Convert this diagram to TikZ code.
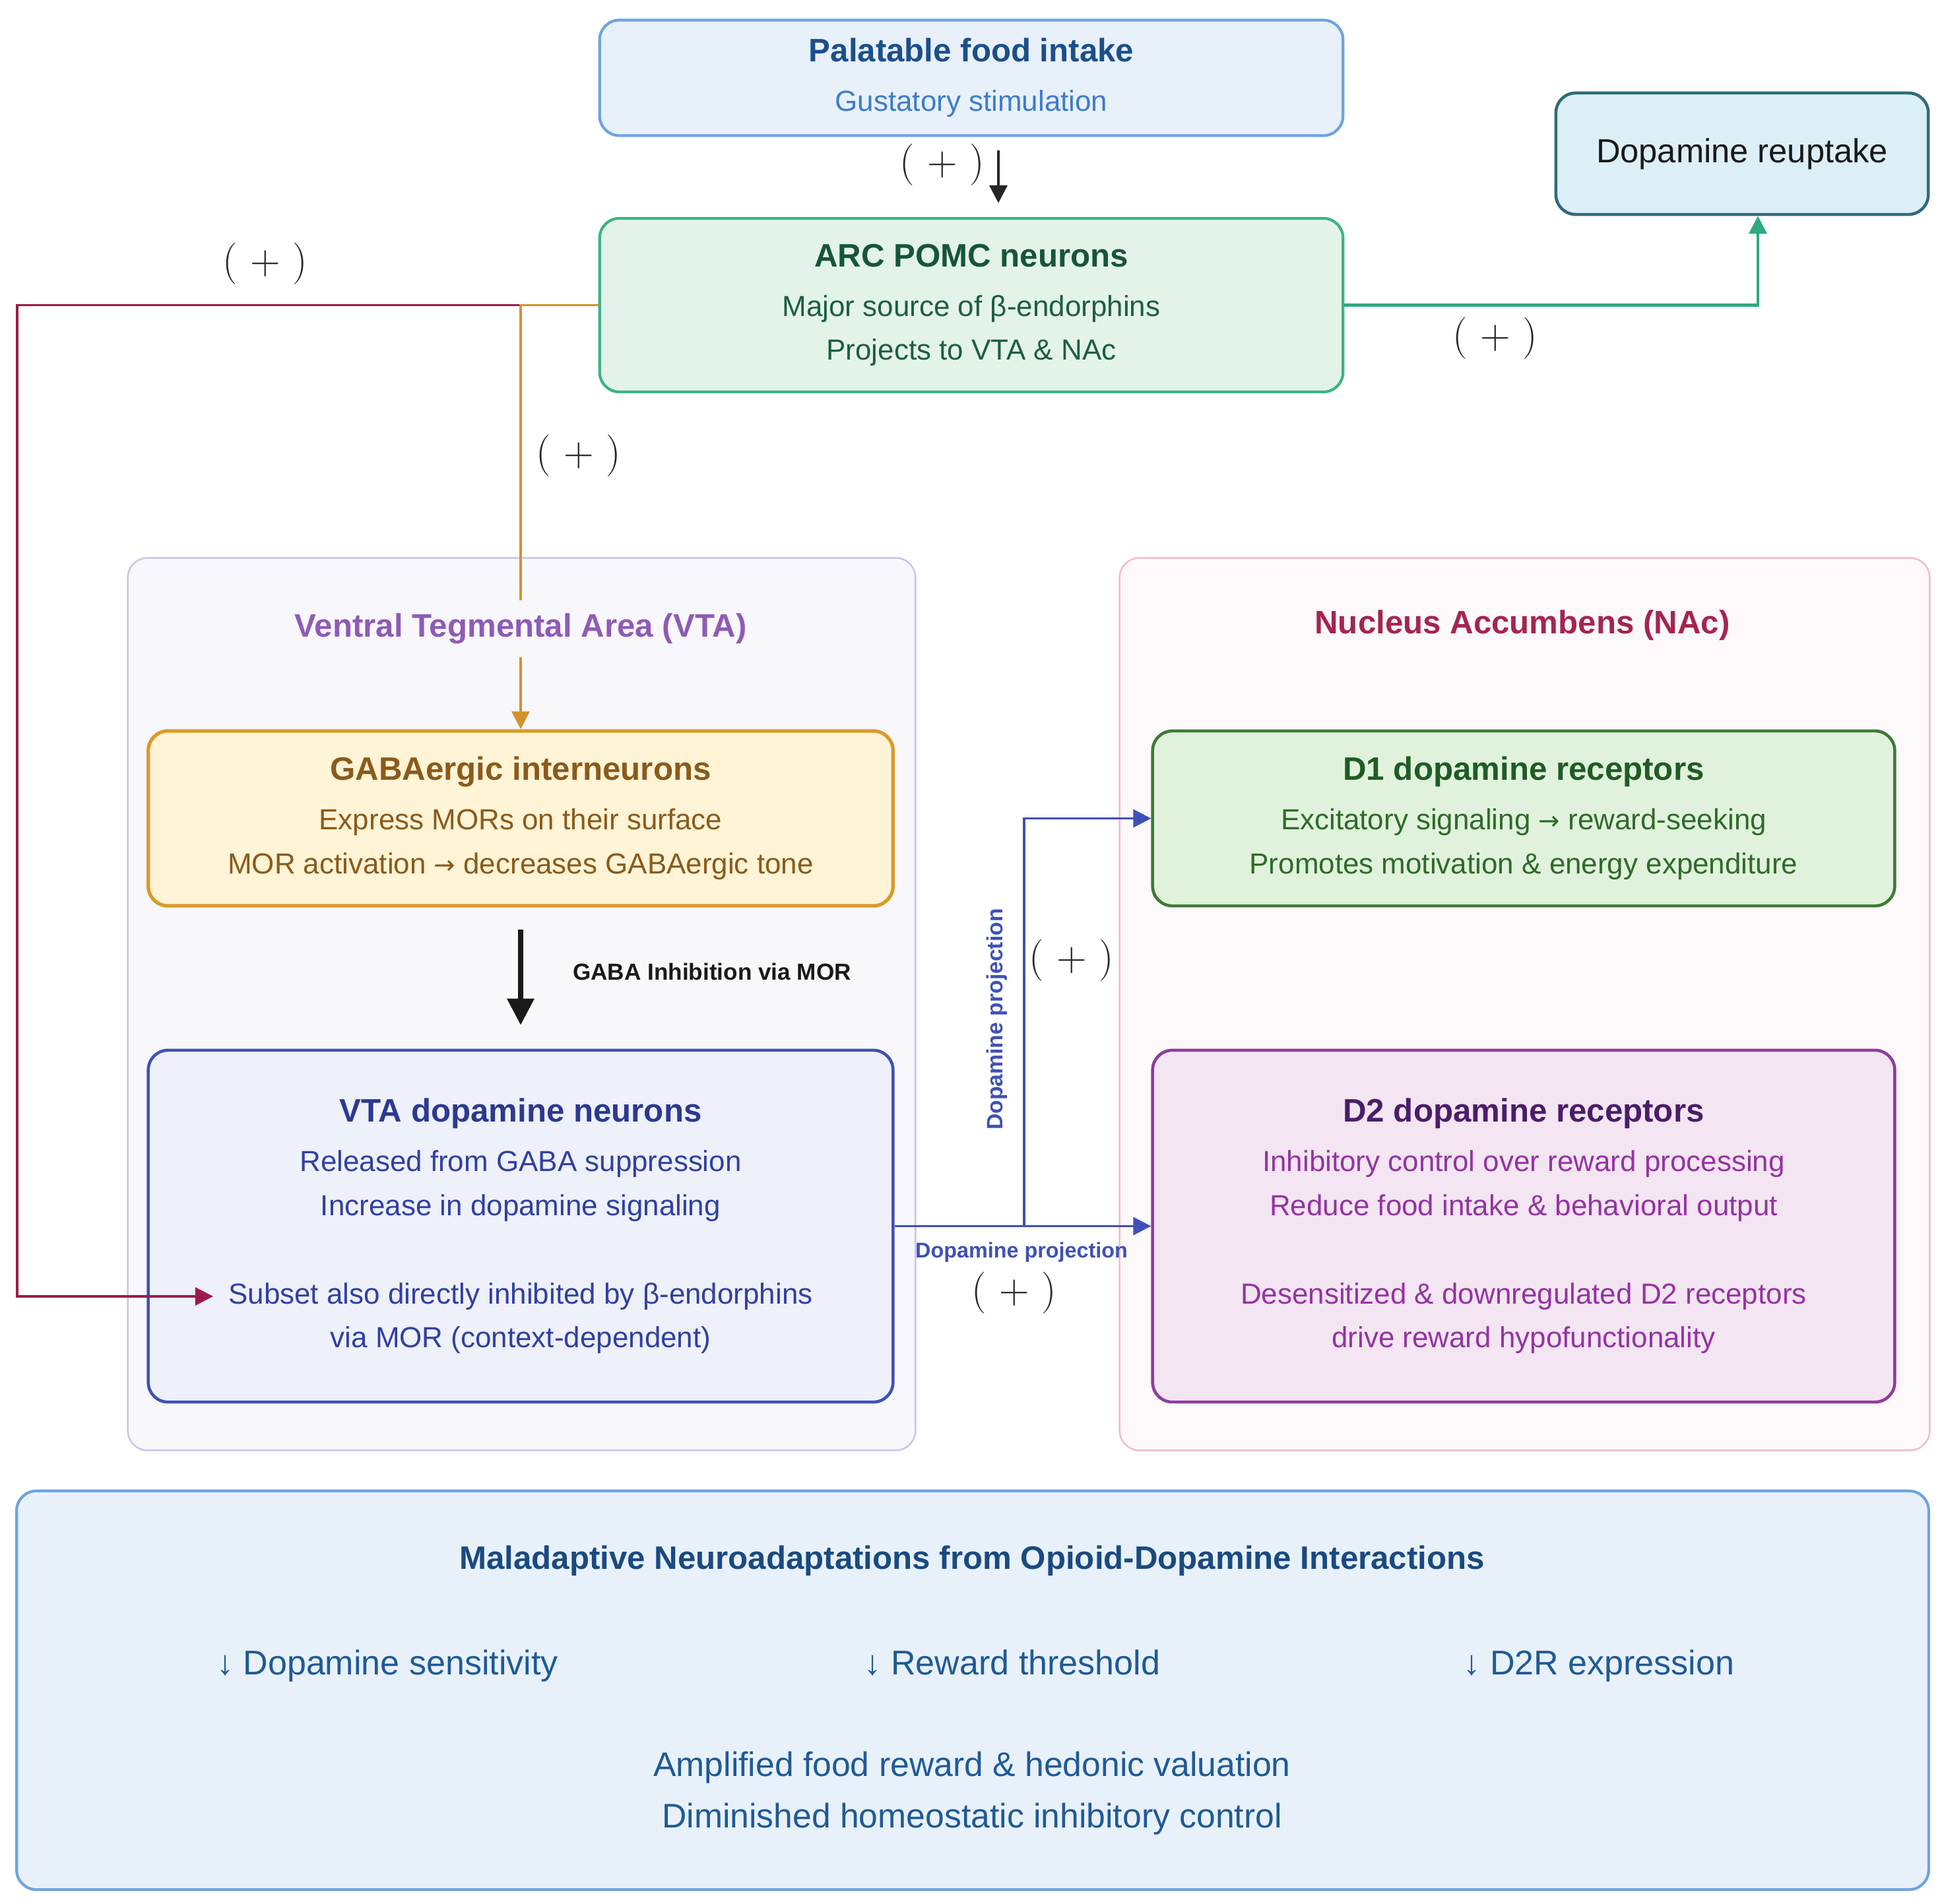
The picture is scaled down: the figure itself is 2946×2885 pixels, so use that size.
\documentclass[tikz,border=0pt]{standalone}
\usepackage{fontspec}
\setsansfont{Liberation Sans}
\newfontfamily\symfont{DejaVu Sans}
\renewcommand{\familydefault}{\sfdefault}
\usepackage{tikz}
\usetikzlibrary{calc,positioning,arrows.meta}

\definecolor{foodfill}{HTML}{E8F0FA}
\definecolor{fooddraw}{HTML}{6FA3DE}
\definecolor{foodtitle}{HTML}{1B4F8A}
\definecolor{foodtext}{HTML}{3D7CC9}
\definecolor{arcfill}{HTML}{E3F3EA}
\definecolor{arcdraw}{HTML}{3DB384}
\definecolor{arctitle}{HTML}{17553A}
\definecolor{arctext}{HTML}{1E5E40}
\definecolor{reupfill}{HTML}{DCEEF6}
\definecolor{reupdraw}{HTML}{2F6B7C}
\definecolor{vtafill}{HTML}{F8F7FC}
\definecolor{vtadraw}{HTML}{CBC3E8}
\definecolor{vtatitle}{HTML}{8E5BB5}
\definecolor{gabafill}{HTML}{FFF4D6}
\definecolor{gabadraw}{HTML}{D99A2B}
\definecolor{gabatext}{HTML}{8B5A1B}
\definecolor{vdopfill}{HTML}{EEF0FA}
\definecolor{vdopdraw}{HTML}{3F51B5}
\definecolor{vdoptitle}{HTML}{2B3990}
\definecolor{vdoptext}{HTML}{3040A0}
\definecolor{nacfill}{HTML}{FDF8FA}
\definecolor{nacdraw}{HTML}{F0BCCB}
\definecolor{nactitle}{HTML}{A3264F}
\definecolor{dafill}{HTML}{E1F2DC}
\definecolor{dadraw}{HTML}{3D7A35}
\definecolor{datitle}{HTML}{1E5C24}
\definecolor{datext}{HTML}{2E6B2A}
\definecolor{dbfill}{HTML}{F3E5F1}
\definecolor{dbdraw}{HTML}{8E3AA0}
\definecolor{dbtitle}{HTML}{4B1C6B}
\definecolor{dbtext}{HTML}{9433A3}
\definecolor{sumfill}{HTML}{E8F1FA}
\definecolor{sumtitle}{HTML}{1A4A80}
\definecolor{sumtext}{HTML}{1F5A96}
\definecolor{orangeln}{HTML}{D4922A}
\definecolor{redln}{HTML}{9B1B4A}
\definecolor{greenln}{HTML}{2DAA7E}
\definecolor{blueln}{HTML}{3F51B5}

\newcommand{\bodysize}{\fontsize{12.5}{19}\selectfont}
\newcommand{\boxtitle}[2]{{\color{#1}\fontsize{14}{19}\selectfont\bfseries #2}}
\newcommand{\toarrow}{{\symfont\fontsize{11}{11}\selectfont →}}

\begin{document}
\begin{tikzpicture}[x=0.01cm,y=-0.01cm,
  box/.style={rounded corners=0.3cm,line width=1.2pt,align=center,font=\bodysize,inner sep=0pt},
  area/.style={rounded corners=0.3cm,line width=0.7pt,inner sep=0pt},
  arr/.style={-{Triangle[length=0.27cm,width=0.27cm]},line width=1pt},
  plus/.style={font=\rmfamily\fontsize{18}{18}\selectfont,text=black!85},
  small/.style={font=\fontsize{9.2}{11}\selectfont\bfseries,text=blueln},
  effect/.style={font=\fontsize{14.8}{18}\selectfont,text=sumtext,anchor=base}]
\fill[white] (0,0) rectangle (2946,2885);
\useasboundingbox (0,0) rectangle (2946,2885);

% VTA and NAc areas
\node[area,fill=vtafill,draw=vtadraw,minimum width=11.93cm,minimum height=13.52cm] (vta) at (790.5,1522) {};
\node[area,fill=nacfill,draw=nacdraw,minimum width=12.27cm,minimum height=13.52cm] (nac) at (2310.5,1522) {};

\node[box,fill=foodfill,draw=fooddraw,text=foodtext,minimum width=11.26cm,minimum height=1.75cm] (food) at (1472,118)
  {\boxtitle{foodtitle}{Palatable food intake}\\[2.3pt] Gustatory stimulation};
\node[box,fill=arcfill,draw=arcdraw,text=arctext,minimum width=11.26cm,minimum height=2.63cm] (arc) at (1472,462.5)
  {\boxtitle{arctitle}{ARC POMC neurons}\\[2.3pt] Major source of β-endorphins\\ Projects to VTA \& NAc};
\node[box,fill=reupfill,draw=reupdraw,line width=1.3pt,text=black!90,font=\fontsize{14.4}{17}\selectfont,
  minimum width=5.64cm,minimum height=1.84cm] (reup) at (2640,233) {Dopamine reuptake};

\node[box,fill=gabafill,draw=gabadraw,line width=1.5pt,text=gabatext,minimum width=11.28cm,minimum height=2.65cm] (gaba) at (789,1240.5)
  {\boxtitle{gabatext}{GABAergic interneurons}\\[2.3pt] Express MORs on their surface\\ MOR activation \toarrow{} decreases GABAergic tone};
\node[box,fill=vdopfill,draw=vdopdraw,line width=1.3pt,text=vdoptext,minimum width=11.28cm,minimum height=5.33cm] (vdop) at (789,1858.5)
  {\boxtitle{vdoptitle}{VTA dopamine neurons}\\[2.3pt] Released from GABA suppression\\ Increase in dopamine signaling\\[19pt]
   Subset also directly inhibited by β-endorphins\\ via MOR (context-dependent)};

\node[box,fill=dafill,draw=dadraw,line width=1.3pt,text=datext,minimum width=11.24cm,minimum height=2.65cm] (d1) at (2309,1240.5)
  {\boxtitle{datitle}{D1 dopamine receptors}\\[2.3pt] Excitatory signaling \toarrow{} reward-seeking\\ Promotes motivation \& energy expenditure};
\node[box,fill=dbfill,draw=dbdraw,line width=1.3pt,text=dbtext,minimum width=11.24cm,minimum height=5.33cm] (d2) at (2309,1858.5)
  {\boxtitle{dbtitle}{D2 dopamine receptors}\\[2.3pt] Inhibitory control over reward processing\\ Reduce food intake \& behavioral output\\[19pt]
   Desensitized \& downregulated D2 receptors\\ drive reward hypofunctionality};

\node[box,fill=sumfill,draw=fooddraw,minimum width=28.96cm,minimum height=6.04cm] (sum) at (1474,2562) {};

% connectors
\coordinate (split) at (arc.west -| gaba.north);
\coordinate (subset) at (323,1965);
\coordinate (branch) at (1552,0);
\draw[arr,black!85,line width=1.2pt] ($(food.south)+(41,20)$) -- ($(arc.north)+(41,-21)$);
\draw[arr,redln] (split) -- ++(-763,0) |- (subset);
\draw[arr,orangeln] (arc.west) -| (gaba.north);
\draw[arr,greenln,line width=1.2pt] (arc.east) -| ($(reup.south)+(24,0)$);
\draw[-{Triangle[length=0.4cm,width=0.4cm]},line width=2pt,black!90] ($(gaba.south)+(0,33)$) -- ($(vdop.north)+(0,-36)$);
\draw[arr,blueln] (vdop.east) -- (d2.west);
\draw[arr,blueln] (vdop.east -| branch) |- (d1.west);

\node[font=\fontsize{14}{17}\selectfont\bfseries,text=vtatitle,fill=vtafill,inner xsep=2pt,inner ysep=0.2cm] (vtaname) at (789,953) {Ventral Tegmental Area (VTA)};
\node[font=\fontsize{14}{17}\selectfont\bfseries,text=nactitle] (nacname) at (2307,948) {Nucleus Accumbens (NAc)};

\node[plus] (p1) at (1428,250) {( + )};
\node[plus] (p2) at (402,400) {( + )};
\node[plus] (p3) at (877,691) {( + )};
\node[plus] (p4) at (2266,513) {( + )};
\node[plus] (p5) at (1624,1456) {( + )};
\node[plus] (p6) at (1537,1960) {( + )};

\node[font=\fontsize{10}{12}\selectfont\bfseries,text=black!90] (gabalbl) at (1079,1473) {GABA Inhibition via MOR};
\node[small,font=\fontsize{9.6}{11}\selectfont\bfseries,rotate=90] (projv) at (1511,1545) {Dopamine projection};
\node[small] (projh) at (1548,1898) {Dopamine projection};

% summary
\node[font=\fontsize{14}{17}\selectfont\bfseries,text=sumtitle] (sumname) at (1473,2366) {Maladaptive Neuroadaptations from Opioid-Dopamine Interactions};
\node[effect] (eff1) at (587,2538) {↓ Dopamine sensitivity};
\node[effect] (eff2) at (1534,2538) {↓ Reward threshold};
\node[effect] (eff3) at (2423,2538) {↓ D2R expression};
\node[font=\fontsize{14.7}{22.4}\selectfont,text=sumtext,align=center] (effects) at (1473,2718)
  {Amplified food reward \& hedonic valuation\\ Diminished homeostatic inhibitory control};
\end{tikzpicture}
\end{document}
